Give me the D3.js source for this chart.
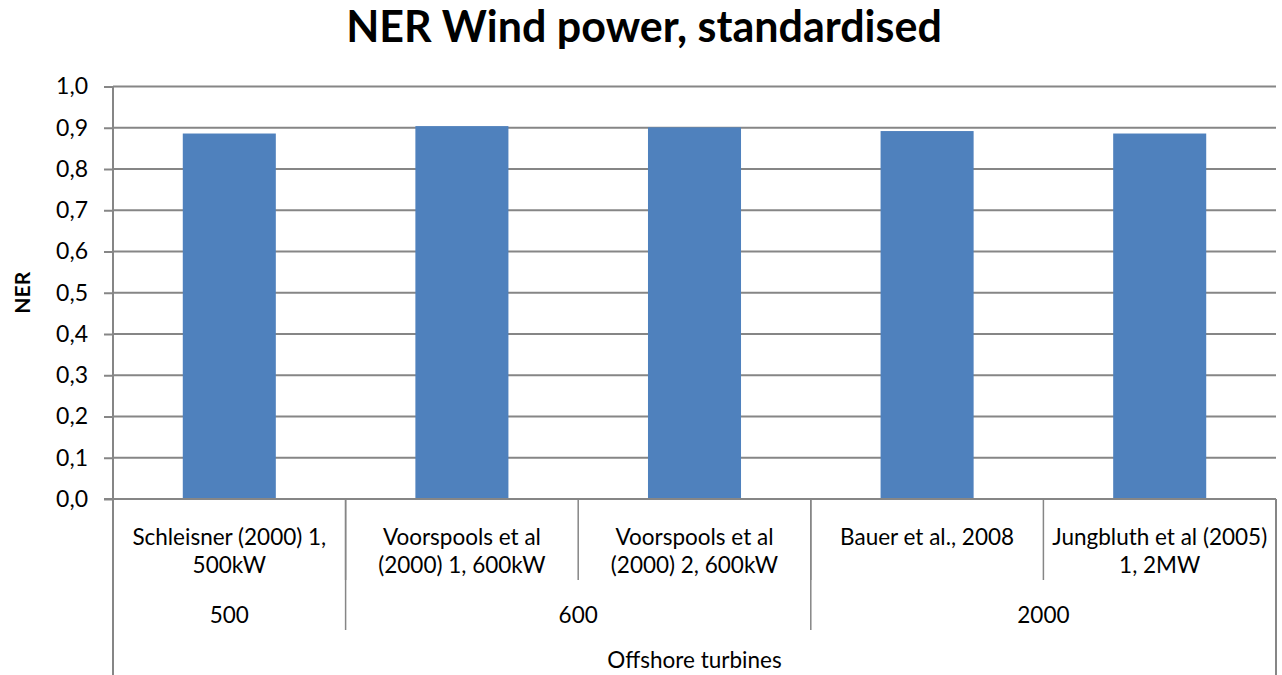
<!DOCTYPE html>
<html><head><meta charset="utf-8">
<script src="https://cdn.jsdelivr.net/npm/d3@7"></script>
<style>
html,body{margin:0;padding:0;background:#fff;}
svg{display:block;}
text{font-family:Lato,"Open Sans",sans-serif;fill:#000;}
</style></head>
<body><svg id="chart" width="1282" height="675"></svg>
<script>
const title = "NER Wind power, standardised";
const yAxisLabel = "NER";
const categories = [
  ["Schleisner (2000) 1,", "500kW"],
  ["Voorspools et al", "(2000) 1, 600kW"],
  ["Voorspools et al", "(2000) 2, 600kW"],
  ["Bauer et al., 2008"],
  ["Jungbluth et al (2005)", "1, 2MW"]
];
const values = [0.886, 0.904, 0.901, 0.892, 0.886];
const groups = [
  {label: "500", start: 0, end: 1},
  {label: "600", start: 1, end: 3},
  {label: "2000", start: 3, end: 5}
];
const outerLabel = "Offshore turbines";
const yTicks = [0, 0.1, 0.2, 0.3, 0.4, 0.5, 0.6, 0.7, 0.8, 0.9, 1.0];

const svg = d3.select("#chart");
const m = {left: 113, right: 1276, top: 86.5, bottom: 499};
const grid = "#868686";
const fs = 22.5;

const y = d3.scaleLinear().domain([0, 1]).range([m.bottom, m.top]);
const idx = categories.map((d, i) => i);
const x = d3.scaleBand().domain(idx).range([m.left, m.right]).paddingInner(0.6).paddingOuter(0.3);
const slot = d3.scaleBand().domain(idx).range([m.left, m.right]).padding(0);
const fmt = d3.formatLocale({decimal: ",", thousands: ".", grouping: [3], currency: ["", ""]}).format(".1f");

// gridlines
svg.append("g").selectAll("line").data(yTicks.slice(1)).join("line")
  .attr("x1", m.left).attr("x2", m.right)
  .attr("y1", d => y(d)).attr("y2", d => y(d))
  .attr("stroke", grid).attr("stroke-width", 2);

// bars
svg.append("g").selectAll("rect").data(values).join("rect")
  .attr("x", (d, i) => x(i)).attr("width", x.bandwidth())
  .attr("y", d => y(d)).attr("height", d => y(0) - y(d))
  .attr("fill", "#4F81BD");

// y axis
const yAxis = d3.axisLeft(y).tickValues(yTicks).tickFormat(fmt).tickSize(9).tickPadding(16);
const yg = svg.append("g").attr("transform", `translate(${m.left},0)`).call(yAxis);
yg.select(".domain").remove();
yg.selectAll(".tick line").attr("stroke", grid).attr("stroke-width", 2);
yg.selectAll(".tick text").attr("font-size", fs + 0.5).style("font-family", "Lato,'Open Sans',sans-serif").attr("fill", "#000");
svg.append("line").attr("x1", m.left).attr("x2", m.left).attr("y1", m.top).attr("y2", 675)
  .attr("stroke", grid).attr("stroke-width", 2);

// x baseline and right border
svg.append("line").attr("x1", m.left - 9).attr("x2", m.right).attr("y1", m.bottom).attr("y2", m.bottom)
  .attr("stroke", grid).attr("stroke-width", 2);
svg.append("line").attr("x1", m.right).attr("x2", m.right).attr("y1", m.bottom).attr("y2", 675)
  .attr("stroke", grid).attr("stroke-width", 2);

// level 1 dividers
svg.append("g").selectAll("line").data(idx.slice(1)).join("line")
  .attr("x1", d => slot(d)).attr("x2", d => slot(d))
  .attr("y1", m.bottom).attr("y2", 580)
  .attr("stroke", grid).attr("stroke-width", 1.5);
// level 2 dividers
svg.append("g").selectAll("line").data(groups.slice(1)).join("line")
  .attr("x1", d => slot(d.start)).attr("x2", d => slot(d.start))
  .attr("y1", m.bottom).attr("y2", 630)
  .attr("stroke", grid).attr("stroke-width", 1.5);

// level 1 labels
const lab = svg.append("g").selectAll("text").data(categories).join("text")
  .attr("text-anchor", "middle").attr("font-size", fs)
  .attr("x", (d, i) => slot(i) + slot.bandwidth() / 2);
lab.selectAll("tspan").data(d => d).join("tspan")
  .attr("x", function() { return this.parentNode.getAttribute("x"); })
  .attr("y", (d, j) => 545 + j * 28)
  .text(d => d);

// level 2 labels
svg.append("g").selectAll("text").data(groups).join("text")
  .attr("text-anchor", "middle").attr("font-size", fs)
  .attr("x", d => (slot(d.start) + (d.end === categories.length ? m.right : slot(d.end))) / 2)
  .attr("y", 623).text(d => d.label);

// level 3
svg.append("text").attr("text-anchor", "middle").attr("font-size", fs)
  .attr("x", (m.left + m.right) / 2).attr("y", 668).text(outerLabel);

// y axis title
svg.append("text").attr("text-anchor", "middle").attr("font-size", 21).attr("font-weight", "bold")
  .attr("transform", `translate(30,${(m.top + m.bottom) / 2}) rotate(-90)`).text(yAxisLabel);

// title
svg.append("text").attr("text-anchor", "middle").attr("font-size", 43).attr("font-weight", "bold")
  .attr("x", 644).attr("y", 42).text(title);
</script></body></html>
